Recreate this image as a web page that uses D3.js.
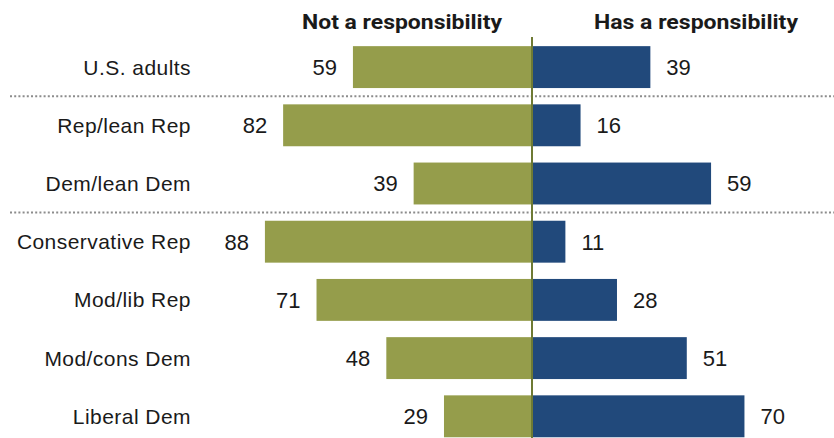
<!DOCTYPE html>
<html>
<head>
<meta charset="utf-8">
<script src="https://cdn.jsdelivr.net/npm/d3@7"></script>
<style>
  html, body { margin: 0; padding: 0; background: #fff; }
  svg text { font-family: "Liberation Sans", Arial, sans-serif; fill: #1a1a1a; }
  svg text.head { font-family: Roboto, "Liberation Sans", Arial, sans-serif; }
  svg text.label { letter-spacing: 0.45px; }
</style>
</head>
<body>
<svg id="chart" width="834" height="438"></svg>
<script>
// Survey groups and shares (%) on each side of the divide
const groups = ["U.S. adults", "Rep/lean Rep", "Dem/lean Dem", "Conservative Rep", "Mod/lib Rep", "Mod/cons Dem", "Liberal Dem"];
const notResponsibility = [59, 82, 39, 88, 71, 48, 29];
const hasResponsibility = [39, 16, 59, 11, 28, 51, 70];
const headers = ["Not a responsibility", "Has a responsibility"];
// Dotted separators go after these rows
const separatorsAfter = [0, 2];

const svg = d3.select("#chart");
const center = 532;
const unit = 3.035;

// Width of a bar in pixels from its percentage
const len = d3.scaleLinear().domain([0, 100]).range([0, 100 * unit]);

const y = d3.scaleBand()
  .domain(groups)
  .range([38, 38 + 58.2 * groups.length])
  .paddingInner(0.28)
  .paddingOuter(0.14);

const green = "#959d4b";
const blue = "#21497b";

// Headers
svg.append("text")
  .attr("class", "head")
  .attr("x", 402).attr("y", 29)
  .attr("text-anchor", "middle")
  .attr("font-size", 20).attr("font-weight", 700)
  .attr("textLength", 200).attr("lengthAdjust", "spacingAndGlyphs")
  .text(headers[0]);
svg.append("text")
  .attr("class", "head")
  .attr("x", 696).attr("y", 29)
  .attr("text-anchor", "middle")
  .attr("font-size", 20).attr("font-weight", 700)
  .attr("textLength", 204).attr("lengthAdjust", "spacingAndGlyphs")
  .text(headers[1]);

// Separators between group blocks
separatorsAfter.forEach(i => {
  const yy = (y(groups[i]) + y.bandwidth() + y(groups[i + 1])) / 2;
  svg.append("line")
    .attr("x1", 10).attr("x2", 834)
    .attr("y1", yy).attr("y2", yy)
    .attr("stroke", "#8c8c8c")
    .attr("stroke-width", 2)
    .attr("stroke-dasharray", "2,2.2");
});

const rows = svg.append("g").selectAll("g")
  .data(groups)
  .join("g")
  .attr("transform", d => `translate(0,${y(d)})`);

// Left bars
rows.append("rect")
  .attr("x", (d, i) => center - len(notResponsibility[i]))
  .attr("y", 0)
  .attr("width", (d, i) => len(notResponsibility[i]))
  .attr("height", y.bandwidth())
  .attr("fill", green);

// Right bars
rows.append("rect")
  .attr("x", center)
  .attr("y", 0)
  .attr("width", (d, i) => len(hasResponsibility[i]))
  .attr("height", y.bandwidth())
  .attr("fill", blue);

const mid = y.bandwidth() / 2;

// Group labels
rows.append("text")
  .attr("class", "label")
  .attr("x", 191).attr("y", mid)
  .attr("dy", "0.36em")
  .attr("text-anchor", "end")
  .attr("font-size", 21)
  .text(d => d);

// Value labels
rows.append("text")
  .attr("x", (d, i) => center - len(notResponsibility[i]) - 16)
  .attr("y", mid).attr("dy", "0.36em")
  .attr("text-anchor", "end")
  .attr("font-size", 22)
  .text((d, i) => notResponsibility[i]);

rows.append("text")
  .attr("x", (d, i) => center + len(hasResponsibility[i]) + 16)
  .attr("y", mid).attr("dy", "0.36em")
  .attr("text-anchor", "start")
  .attr("font-size", 22)
  .text((d, i) => hasResponsibility[i]);

// Center divider
svg.append("line")
  .attr("x1", center).attr("x2", center)
  .attr("y1", 37).attr("y2", 438)
  .attr("stroke", "#6e7a34")
  .attr("stroke-width", 2);
</script>
</body>
</html>
